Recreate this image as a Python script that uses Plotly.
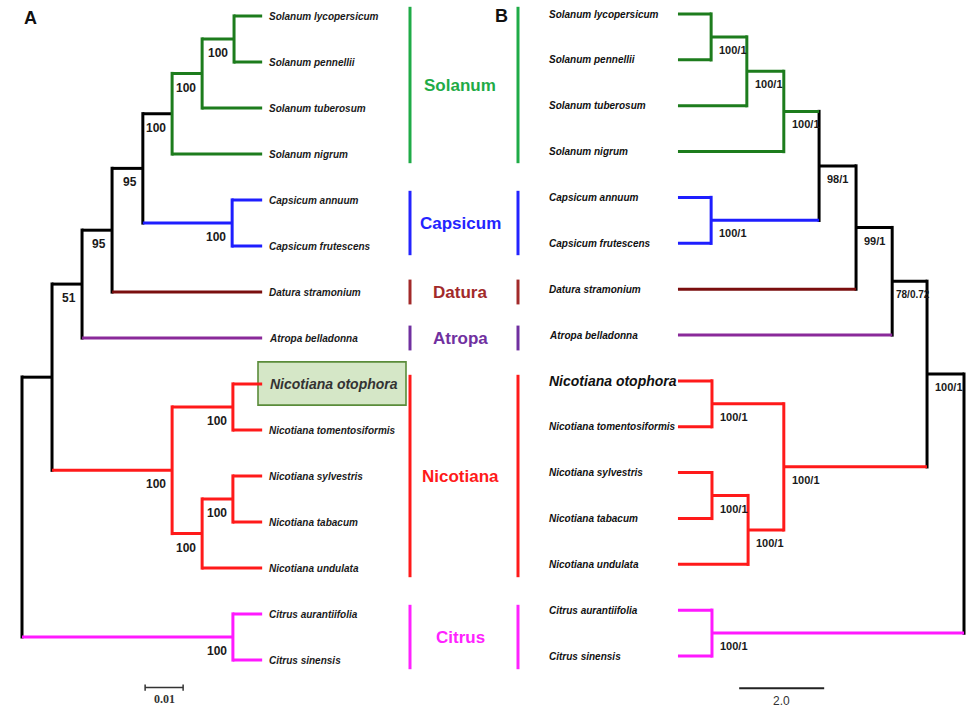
import plotly.graph_objects as go

# ---------------- data ----------------
leaves = ["Solanum lycopersicum", "Solanum pennellii", "Solanum tuberosum", "Solanum nigrum",
          "Capsicum annuum", "Capsicum frutescens", "Datura stramonium", "Atropa belladonna",
          "Nicotiana otophora", "Nicotiana tomentosiformis", "Nicotiana sylvestris",
          "Nicotiana tabacum", "Nicotiana undulata", "Citrus aurantiifolia", "Citrus sinensis"]
leaf_genus = [0, 0, 0, 0, 1, 1, 2, 3, 4, 4, 4, 4, 4, 5, 5]
highlight_leaf = "Nicotiana otophora"

genera = ["Solanum", "Capsicum", "Datura", "Atropa", "Nicotiana", "Citrus"]
genus_tree_color = ["#1d7c1d", "#1e1eff", "#7a0e0e", "#8a2a9a", "#ff1a1a", "#ff19ff"]
genus_label_color = ["#1fab47", "#2424ff", "#a22a2a", "#7030a0", "#ff1a1a", "#ff22ff"]

# internal nodes: children (leaf names or node names)
nodes = ["root", "solanaceae", "n_atropa", "n_datura", "n_solcap", "solanum", "sol_tub",
         "sol_lyc", "capsicum", "nicotiana", "nic_oto", "nic_und", "nic_syl", "citrus"]
children = {
    "root": ["solanaceae", "citrus"],
    "solanaceae": ["n_atropa", "nicotiana"],
    "n_atropa": ["n_datura", "Atropa belladonna"],
    "n_datura": ["n_solcap", "Datura stramonium"],
    "n_solcap": ["solanum", "capsicum"],
    "solanum": ["sol_tub", "Solanum nigrum"],
    "sol_tub": ["sol_lyc", "Solanum tuberosum"],
    "sol_lyc": ["Solanum lycopersicum", "Solanum pennellii"],
    "capsicum": ["Capsicum annuum", "Capsicum frutescens"],
    "nicotiana": ["nic_oto", "nic_und"],
    "nic_oto": ["Nicotiana otophora", "Nicotiana tomentosiformis"],
    "nic_und": ["nic_syl", "Nicotiana undulata"],
    "nic_syl": ["Nicotiana sylvestris", "Nicotiana tabacum"],
    "citrus": ["Citrus aurantiifolia", "Citrus sinensis"],
}
node_clade = {"root": None, "solanaceae": None, "n_atropa": None, "n_datura": None,
              "n_solcap": None, "solanum": 0, "sol_tub": 0, "sol_lyc": 0, "capsicum": 1,
              "nicotiana": 4, "nic_oto": 4, "nic_und": 4, "nic_syl": 4, "citrus": 5}

# Tree A (distance from root, substitutions/site)
depth_a = {"root": 0.0, "solanaceae": 0.0079, "n_atropa": 0.0158, "n_datura": 0.0237,
           "n_solcap": 0.0318, "solanum": 0.0395, "sol_tub": 0.0474, "sol_lyc": 0.0558,
           "capsicum": 0.0553, "nicotiana": 0.0395, "nic_oto": 0.0555, "nic_und": 0.0474,
           "nic_syl": 0.0555, "citrus": 0.0555}
leaf_depth_a = 0.0632
support_a = {"root": "", "solanaceae": "", "n_atropa": "51", "n_datura": "95", "n_solcap": "95",
             "solanum": "100", "sol_tub": "100", "sol_lyc": "100", "capsicum": "100",
             "nicotiana": "100", "nic_oto": "100", "nic_und": "100", "nic_syl": "100",
             "citrus": "100"}
stem_black_a = ["solanum"]
scale_a = 0.01
scale_a_start = 0.0324

# Tree B (distance from root)
depth_b = {"root": 0.0, "solanaceae": 0.87, "n_atropa": 1.69, "n_datura": 2.54,
           "n_solcap": 3.41, "solanum": 4.24, "sol_tub": 5.11, "sol_lyc": 5.95,
           "capsicum": 5.95, "nicotiana": 4.24, "nic_oto": 5.93, "nic_und": 5.08,
           "nic_syl": 5.93, "citrus": 5.93}
leaf_depth_b = 6.73
support_b = {"root": "", "solanaceae": "100/1", "n_atropa": "78/0.72", "n_datura": "99/1",
             "n_solcap": "98/1", "solanum": "100/1", "sol_tub": "100/1", "sol_lyc": "100/1",
             "capsicum": "100/1", "nicotiana": "100/1", "nic_oto": "100/1", "nic_und": "100/1",
             "nic_syl": "100/1", "citrus": "100/1"}
stem_black_b = []
scale_b = 2.0
scale_b_start = 3.29

# ---------------- layout helpers ----------------
W, H = 972, 709
FONT = "Arial, Liberation Sans, sans-serif"

leaf_index = {n: i for i, n in enumerate(leaves)}
ypos = {}


def node_y(n):
    if n in leaf_index:
        return float(leaf_index[n])
    if n not in ypos:
        ys = [node_y(c) for c in children[n]]
        ypos[n] = (min(ys) + max(ys)) / 2.0
    return ypos[n]


for n in nodes:
    node_y(n)


def color_of(n, black_list):
    if n in leaf_index:
        return genus_tree_color[leaf_genus[leaf_index[n]]]
    if n in black_list or node_clade[n] is None:
        return "#000000"
    return genus_tree_color[node_clade[n]]


def vcolor(n):
    return "#000000" if node_clade[n] is None else genus_tree_color[node_clade[n]]


fig = go.Figure()


def build_tree(depth, leaf_depth, black_list, xa, ya, ext):
    segs = {}

    def d(n):
        return leaf_depth if n in leaf_index else depth[n]

    for n in nodes:
        ys = [node_y(c) for c in children[n]]
        segs.setdefault(vcolor(n), []).append(([depth[n], depth[n]], [min(ys) - ext, max(ys) + ext]))
        for c in children[n]:
            segs.setdefault(color_of(c, black_list), []).append(([depth[n], d(c)], [node_y(c), node_y(c)]))
    for col, lst in segs.items():
        xs, ys = [], []
        for sx, sy in lst:
            xs += sx + [None]
            ys += sy + [None]
        fig.add_trace(go.Scatter(x=xs, y=ys, mode="lines", xaxis=xa, yaxis=ya,
                                 line=dict(color=col, width=3), hoverinfo="skip",
                                 showlegend=False))


build_tree(depth_a, leaf_depth_a, stem_black_a, "x", "y", 0.035)
build_tree(depth_b, leaf_depth_b, stem_black_b, "x2", "y2", 0.035)

ann = []
shapes = []

# bootstrap labels
for n in nodes:
    if support_a[n]:
        ann.append(dict(x=depth_a[n], y=node_y(n), xref="x", yref="y", text="<b>%s</b>" % support_a[n],
                        showarrow=False, xanchor="right", yanchor="middle", xshift=-4, yshift=-14,
                        font=dict(family=FONT, size=12, color="#1a1a1a")))
    if support_b[n]:
        small = len(support_b[n]) > 5
        ann.append(dict(x=depth_b[n], y=node_y(n), xref="x2", yref="y2", text="<b>%s</b>" % support_b[n],
                        showarrow=False, xanchor="left", yanchor="middle",
                        xshift=2 if small else 6, yshift=-13,
                        font=dict(family=FONT, size=10 if small else 11, color="#1a1a1a")))

# leaf labels
for i, name in enumerate(leaves):
    big = name == highlight_leaf
    fa = dict(family=FONT, size=14 if big else 10, color="#333333" if big else "#1a1a1a")
    fb = dict(family=FONT, size=14 if big else 10, color="#111111")
    ann.append(dict(x=leaf_depth_a, y=i, xref="x", yref="y", text="<b><i>%s</i></b>" % name,
                    showarrow=False, xanchor="left", yanchor="middle", xshift=6 if big else 5, font=fa))
    ann.append(dict(x=547 / W, y=i, xref="paper", yref="y2", text="<b><i>%s</i></b>" % name,
                    showarrow=False, xanchor="left", yanchor="middle", font=fb))
    if big:
        shapes.append(dict(type="rect", xref="paper", yref="y", x0=258 / W, x1=406 / W,
                           y0=i - 0.48, y1=i + 0.46, layer="below",
                           fillcolor="#d5e7c7", line=dict(color="#5a8c3a", width=1.6)))

# genus bars and labels
for g, gname in enumerate(genera):
    idx = [i for i, lg in enumerate(leaf_genus) if lg == g]
    pad = 0.27 if len(idx) == 1 else 0.2
    y0, y1 = min(idx) - pad, max(idx) + pad
    for xp in (410, 518):
        shapes.append(dict(type="line", xref="paper", yref="y", x0=xp / W, x1=xp / W, y0=y0, y1=y1,
                           line=dict(color=genus_label_color[g], width=3)))
    ann.append(dict(x=460 / W, y=(y0 + y1) / 2, xref="paper", yref="y", text="<b>%s</b>" % gname,
                    showarrow=False, xanchor="center", yanchor="middle",
                    font=dict(family=FONT, size=17, color=genus_label_color[g])))

# scale bars
ysb_a = 14.6
fig.add_trace(go.Scatter(x=[scale_a_start, scale_a_start + scale_a, None, scale_a_start, scale_a_start,
                            None, scale_a_start + scale_a, scale_a_start + scale_a],
                         y=[ysb_a, ysb_a, None, ysb_a - 0.07, ysb_a + 0.07, None, ysb_a - 0.07, ysb_a + 0.07],
                         mode="lines", xaxis="x", yaxis="y", line=dict(color="#333333", width=1.5),
                         hoverinfo="skip", showlegend=False))
ann.append(dict(x=scale_a_start + scale_a / 2, y=ysb_a, xref="x", yref="y", text="<b>%g</b>" % scale_a,
                showarrow=False, yanchor="middle", yshift=-11,
                font=dict(family="Liberation Serif, Times New Roman, serif", size=12, color="#333333")))

ysb_b = 14.70
fig.add_trace(go.Scatter(x=[scale_b_start, scale_b_start + scale_b], y=[ysb_b, ysb_b], mode="lines",
                         xaxis="x2", yaxis="y2", line=dict(color="#222222", width=2),
                         hoverinfo="skip", showlegend=False))
ann.append(dict(x=scale_b_start + scale_b / 2, y=ysb_b, xref="x2", yref="y2", text="%.1f" % scale_b,
                showarrow=False, yanchor="middle", yshift=-13,
                font=dict(family=FONT, size=12, color="#333333")))

# panel letters
ann.append(dict(x=22 / W, y=1 - 18 / H, xref="paper", yref="paper", text="<b>A</b>", showarrow=False,
                xanchor="left", yanchor="middle", font=dict(family=FONT, size=18, color="#111111")))
ann.append(dict(x=493 / W, y=1 - 16 / H, xref="paper", yref="paper", text="<b>B</b>", showarrow=False,
                xanchor="left", yanchor="middle", font=dict(family=FONT, size=18, color="#111111")))

ax_off = dict(visible=False, showgrid=False, zeroline=False, fixedrange=True)
fig.update_layout(
    width=W, height=H, margin=dict(l=0, r=0, t=0, b=0),
    paper_bgcolor="white", plot_bgcolor="white",
    xaxis=dict(range=[-22 / 3800, 950 / 3800], domain=[0, 1], **ax_off),
    xaxis2=dict(range=[964 / 42.5, -8 / 42.5], domain=[0, 1], overlaying="x", **ax_off),
    yaxis=dict(range=[(H - 16) / 46, -16 / 46], domain=[0, 1], **ax_off),
    yaxis2=dict(range=[(H - 14) / 45.86, -14 / 45.86], domain=[0, 1], overlaying="y", **ax_off),
    annotations=ann, shapes=shapes, showlegend=False,
)

fig.write_html("out.html", config={"displayModeBar": False},
               post_script="document.body.style.margin='0px';document.body.style.overflow='hidden';")
